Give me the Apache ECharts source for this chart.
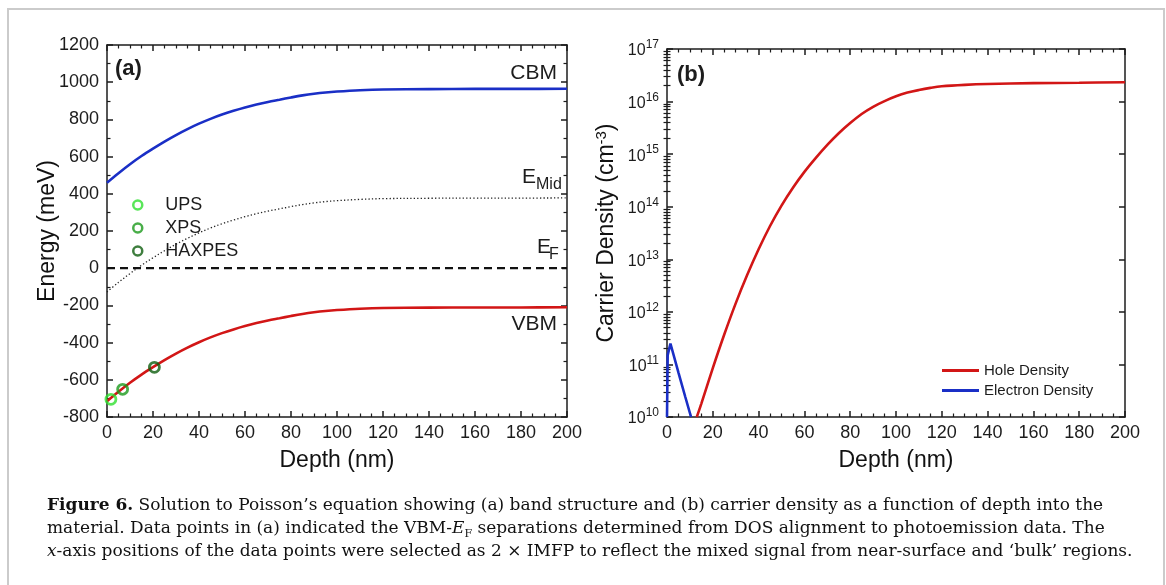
<!DOCTYPE html>
<html>
<head>
<meta charset="utf-8">
<script src="https://cdn.jsdelivr.net/npm/echarts@6/dist/echarts.min.js"></script>
<style>
  html, body { margin: 0; padding: 0; background: #fff; }
  #frame { position: absolute; left: 7px; top: 8px; width: 1158px; height: 640px;
           border: 2px solid #cbcbcb; box-sizing: border-box; }
  #chart { position: absolute; left: 0; top: 0; width: 1166px; height: 585px; }
</style>
</head>
<body>
<div id="frame"></div>
<div id="chart"></div>
<script>
// ---- (a) band structure vs depth ----
const depthA = [0, 5, 10, 15, 20, 25, 30, 35, 40, 45, 50, 55, 60, 65, 70, 75, 80, 85, 90, 95, 100,
                110, 120, 140, 160, 180, 200];
const cbm  = [460, 511, 559, 603, 643, 681, 716, 748, 777, 803, 826, 846, 864, 880, 894, 906, 918, 929,
              938, 945, 950, 957, 961, 963, 964, 964, 965];
const vbm  = [-715, -664, -616, -572, -532, -494, -459, -427, -398, -372, -349, -329, -311, -295, -281,
              -269, -257, -246, -237, -230, -225, -218, -214, -212, -211, -211, -210];
const eMid = [-128, -76, -29, 16, 56, 94, 129, 161, 190, 216, 239, 259, 277, 293, 307, 319, 331, 342,
              351, 358, 363, 370, 374, 376, 377, 377, 378];
const eFermi = [[0, 0], [200, 0]];

// VBM - E_F separations from photoemission (depth = 2 x IMFP)
const ups    = [[1.7, -705]];
const xps    = [[6.8, -651]];
const haxpes = [[20.6, -533]];

// ---- (b) carrier density vs depth ----
const depthHole = [13, 15, 20, 25, 30, 35, 40, 45, 50, 55, 60, 65, 70, 75, 80, 85, 90, 95, 100,
                   105, 110, 115, 120, 130, 140, 160, 180, 200];
const holeDensity = [1.0e10, 1.8e10, 8.5e10, 3.7e11, 1.45e12, 5.0e12, 1.55e13, 4.3e13, 1.05e14, 2.3e14,
                     4.6e14, 8.5e14, 1.5e15, 2.5e15, 3.9e15, 5.8e15, 7.95e15, 1.02e16, 1.26e16,
                     1.48e16, 1.66e16, 1.82e16, 1.95e16, 2.08e16, 2.16e16, 2.24e16, 2.28e16, 2.33e16];
const depthElec = [0, 0.3, 1.5, 5, 8, 10.5];
const elecDensity = [1.0e10, 1.5e11, 2.5e11, 7.0e10, 2.4e10, 1.0e10];

const depthTicks = { min: 0, max: 200, interval: 20 };
const energyTicks = { min: -800, max: 1200, interval: 200 };
const densityRange = { min: 1e10, max: 1e17 };

const FONT = '"Liberation Sans", Arial, Helvetica, sans-serif';
const SERIF = '"DejaVu Serif", "Liberation Serif", serif';
const INK = '#1c1c1c';

const zip = (xs, ys) => xs.map((x, i) => [x, ys[i]]);

// minor tick positions of a decade axis (2..9 x 10^n)
const logMinor = [];
for (let e = Math.log10(densityRange.min); e < Math.log10(densityRange.max); e++) {
  for (let m = 2; m <= 9; m++) logMinor.push(m * Math.pow(10, e));
}

const lineStyleAxis = { color: INK, width: 1.5 };
const tickMajor = { show: true, inside: true, length: 6, lineStyle: { color: INK, width: 1.5 } };
const tickMinor = { show: true, inside: true, length: 3.5, lineStyle: { color: INK, width: 1.2 } };

function depthAxis(grid, position, withLabels) {
  return {
    gridIndex: grid, type: 'value', position,
    min: depthTicks.min, max: depthTicks.max, interval: depthTicks.interval,
    axisLine: { show: true, onZero: false, lineStyle: lineStyleAxis },
    axisTick: tickMajor,
    minorTick: Object.assign({ splitNumber: 4 }, tickMinor),
    splitLine: { show: false }, minorSplitLine: { show: false },
    axisLabel: { show: withLabels, fontFamily: FONT, fontSize: 18, color: INK, margin: 7,
                 formatter: v => String(v) },
    name: withLabels ? 'Depth (nm)' : '',
    nameLocation: 'middle', nameGap: 32, nameMoveOverlap: false,
    nameTextStyle: { fontFamily: FONT, fontSize: 23, color: '#111' }
  };
}

function energyAxis(position, withLabels) {
  return {
    gridIndex: 0, type: 'value', position,
    min: energyTicks.min, max: energyTicks.max, interval: energyTicks.interval,
    axisLine: { show: true, onZero: false, lineStyle: lineStyleAxis },
    axisTick: tickMajor,
    minorTick: Object.assign({ splitNumber: 2 }, tickMinor),
    splitLine: { show: false }, minorSplitLine: { show: false },
    axisLabel: { show: withLabels, fontFamily: FONT, fontSize: 18, color: INK, margin: 8,
                 formatter: v => String(v) },
    name: withLabels ? 'Energy (meV)' : '',
    nameLocation: 'middle', nameGap: 48, nameMoveOverlap: false,
    nameTextStyle: { fontFamily: FONT, fontSize: 23, color: '#111' }
  };
}

function densityAxis(position, withLabels) {
  return {
    gridIndex: 1, type: 'log', logBase: 10, position,
    min: densityRange.min, max: densityRange.max,
    axisLine: { show: true, onZero: false, lineStyle: lineStyleAxis },
    axisTick: tickMajor,
    splitLine: { show: false },
    axisLabel: {
      show: withLabels, margin: 8,
      formatter: v => '{b|10}{s|' + Math.round(Math.log10(v)) + '}',
      rich: {
        b: { fontFamily: FONT, fontSize: 16, color: INK, lineHeight: 20, verticalAlign: 'bottom' },
        s: { fontFamily: FONT, fontSize: 12, color: INK, lineHeight: 20, verticalAlign: 'top' }
      }
    },
    name: withLabels ? 'Carrier Density (cm{s|-3})' : '',
    nameLocation: 'middle', nameGap: 47, nameMoveOverlap: false,
    nameTextStyle: {
      fontFamily: FONT, fontSize: 23, color: '#111',
      rich: { s: { fontFamily: FONT, fontSize: 15, color: '#111', verticalAlign: 'top', lineHeight: 26 } }
    }
  };
}

function densityMinorAxis(position) {
  return {
    gridIndex: 1, type: 'log', logBase: 10, position,
    min: densityRange.min, max: densityRange.max,
    axisLine: { show: false },
    axisTick: Object.assign({ customValues: logMinor }, tickMinor),
    axisLabel: { show: false },
    splitLine: { show: false }
  };
}

const chart = echarts.init(document.getElementById('chart'), null, { renderer: 'canvas' });

const txt = (text, x, y, extra) => ({
  type: 'text', x, y, silent: true,
  style: Object.assign({ text, fill: INK, font: '21px ' + FONT, align: 'left', verticalAlign: 'middle' }, extra || {})
});

const curve = { smooth: 0.35, showSymbol: false };

chart.setOption({
  backgroundColor: 'transparent',
  animation: false,
  grid: [
    { left: 107, top: 45, width: 460, height: 372 },
    { left: 667, top: 49, width: 458, height: 368 }
  ],
  xAxis: [
    depthAxis(0, 'bottom', true),
    depthAxis(0, 'top', false),
    depthAxis(1, 'bottom', true),
    depthAxis(1, 'top', false)
  ],
  yAxis: [
    energyAxis('left', true),
    energyAxis('right', false),
    densityAxis('left', true),
    densityAxis('right', false),
    densityMinorAxis('left'),
    densityMinorAxis('right')
  ],
  legend: [
    {
      data: ['UPS', 'XPS', 'HAXPES'],
      orient: 'vertical', left: 127, top: 191,
      itemWidth: 45, itemHeight: 9, itemGap: 5,
      itemStyle: { borderWidth: 2.5 },
      textStyle: { fontFamily: FONT, fontSize: 18, color: INK },
      selectedMode: false
    },
    {
      data: ['Hole Density', 'Electron Density'],
      orient: 'vertical', left: 937, top: 358,
      icon: 'rect', itemWidth: 37, itemHeight: 3, itemGap: 5,
      textStyle: { fontFamily: FONT, fontSize: 15, color: INK },
      selectedMode: false
    }
  ],
  series: [
    Object.assign({ name: 'CBM', type: 'line', xAxisIndex: 0, yAxisIndex: 0, data: zip(depthA, cbm),
      lineStyle: { color: '#1a2fc6', width: 2.6 } }, curve),
    Object.assign({ name: 'VBM', type: 'line', xAxisIndex: 0, yAxisIndex: 0, data: zip(depthA, vbm),
      lineStyle: { color: '#d21616', width: 2.6 } }, curve),
    Object.assign({ name: 'EMid', type: 'line', xAxisIndex: 0, yAxisIndex: 0, data: zip(depthA, eMid),
      lineStyle: { color: '#222', width: 1.3, type: [1.3, 2.2] } }, curve),
    { name: 'EF', type: 'line', xAxisIndex: 0, yAxisIndex: 0, data: eFermi,
      showSymbol: false, lineStyle: { color: '#111', width: 2.2, type: [8, 5] } },
    { name: 'UPS', type: 'scatter', xAxisIndex: 0, yAxisIndex: 0, data: ups, z: 5,
      symbol: 'circle', symbolSize: 10,
      itemStyle: { color: 'rgba(0,0,0,0)', borderColor: '#2fe02f', borderWidth: 2.8 } },
    { name: 'XPS', type: 'scatter', xAxisIndex: 0, yAxisIndex: 0, data: xps, z: 5,
      symbol: 'circle', symbolSize: 10,
      itemStyle: { color: 'rgba(0,0,0,0)', borderColor: '#1c9a1c', borderWidth: 2.8 } },
    { name: 'HAXPES', type: 'scatter', xAxisIndex: 0, yAxisIndex: 0, data: haxpes, z: 5,
      symbol: 'circle', symbolSize: 10,
      itemStyle: { color: 'rgba(0,0,0,0)', borderColor: '#0e5e0e', borderWidth: 2.8 } },

    Object.assign({ name: 'Hole Density', type: 'line', xAxisIndex: 2, yAxisIndex: 2,
      data: zip(depthHole, holeDensity),
      lineStyle: { color: '#d21616', width: 2.6 }, itemStyle: { color: '#d21616' } }, curve),
    { name: 'Electron Density', type: 'line', xAxisIndex: 2, yAxisIndex: 2, data: zip(depthElec, elecDensity),
      showSymbol: false, lineStyle: { color: '#1a2fc6', width: 2.6 }, itemStyle: { color: '#1a2fc6' } }
  ],
  graphic: [
    txt('(a)', 115, 69, { font: 'bold 22px ' + FONT }),
    txt('(b)', 677, 75, { font: 'bold 22px ' + FONT }),
    txt('CBM', 557, 73, { align: 'right' }),
    txt('E', 522, 177),
    txt('Mid', 536, 185, { font: '16px ' + FONT }),
    txt('E', 537, 247),
    txt('F', 549, 255, { font: '16px ' + FONT }),
    txt('VBM', 557, 324, { align: 'right' }),
    {
      type: 'text', left: 47, top: 494, silent: true,
      style: {
        text: '{b|Figure 6.} Solution to Poisson\u2019s equation showing (a) band structure and (b) carrier density as a function of depth into the\n' +
              'material. Data points in (a) indicated the VBM-{i|E}{sub|F} separations determined from DOS alignment to photoemission data. The\n' +
              '{i|x}-axis positions of the data points were selected as 2 \u00d7 IMFP to reflect the mixed signal from near-surface and \u2018bulk\u2019 regions.',
        font: '17px ' + SERIF, fill: '#111', lineHeight: 23,
        rich: {
          b: { font: 'bold 17px ' + SERIF, fill: '#111', lineHeight: 23 },
          i: { font: 'italic 17px ' + SERIF, fill: '#111', lineHeight: 23 },
          sub: { font: '11px ' + SERIF, fill: '#111', lineHeight: 23, verticalAlign: 'bottom' }
        }
      }
    }
  ]
});
</script>
</body>
</html>
